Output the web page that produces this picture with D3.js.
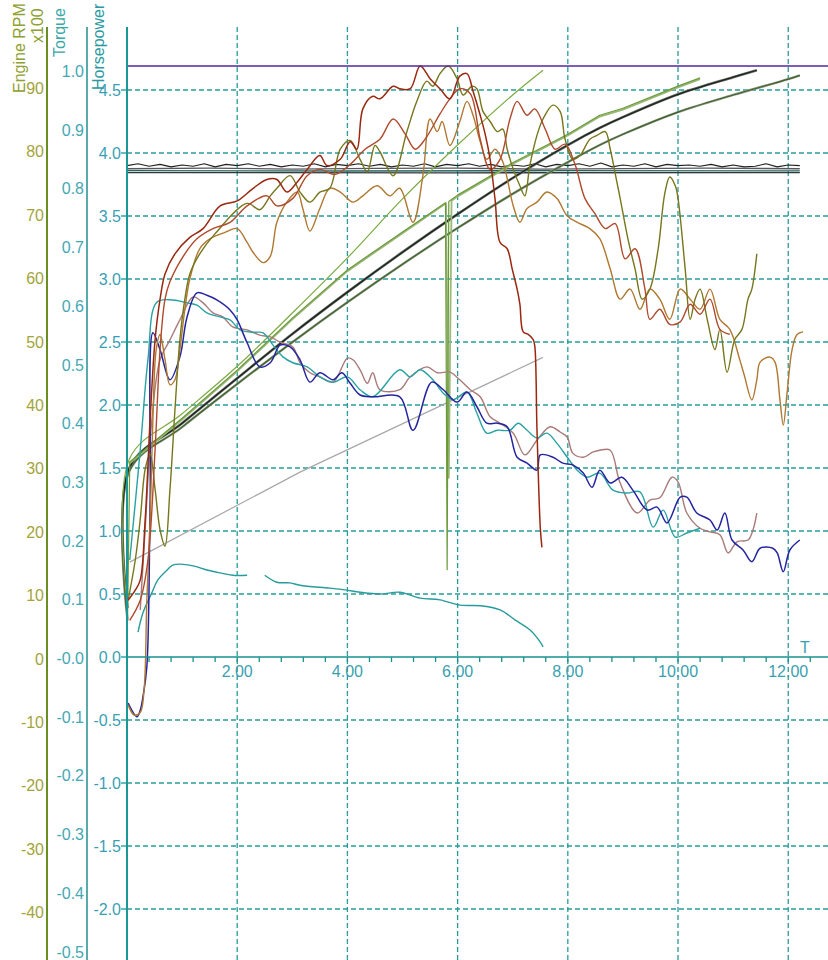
<!DOCTYPE html>
<html>
<head>
<meta charset="utf-8">
<script src="https://d3js.org/d3.v7.min.js"></script>
<style>
  body { margin: 0; background: #fff; }
  svg { display: block; font-family: Arial, "Liberation Sans", sans-serif; }
</style>
</head>
<body>
<div id="chart"></div>
<script>
// tick values / labels
const T_TICKS = [2, 4, 6, 8, 10, 12];
const T_MINOR = d3.range(0.4, 12.8, 0.4);
const HP_TICKS = [4.5, 4.0, 3.5, 3.0, 2.5, 2.0, 1.5, 1.0, 0.5, 0.0, -0.5, -1.0, -1.5, -2.0];
const TQ_TICKS = [1.0, 0.9, 0.8, 0.7, 0.6, 0.5, 0.4, 0.3, 0.2, 0.1, 0.0, -0.1, -0.2, -0.3, -0.4, -0.5];
const TQ_LABELS = ["1.0", "0.9", "0.8", "0.7", "0.6", "0.5", "0.4", "0.3", "0.2", "0.1", "-0.0", "-0.1", "-0.2", "-0.3", "-0.4", "-0.5"];
const RPM_TICKS = [90, 80, 70, 60, 50, 40, 30, 20, 10, 0, -10, -20, -30, -40];

// horsepower runs [time, hp]
const hpLimit = [[0, 4.69], [12.74, 4.69]];
const hpRun1 = [[0.02,0.45],[0.15,0.53],[0.24,0.61],[0.33,1.09],[0.42,1.89],[0.51,2.52],[0.60,2.84],[0.69,3.04],[0.87,3.20],[1.14,3.33],[1.38,3.40],[1.69,3.58],[2.0,3.62],[2.29,3.72],[2.54,3.79],[2.72,3.79],[2.90,3.69],[3.09,3.77],[3.27,3.87],[3.50,3.98],[3.63,3.90],[3.87,3.95],[4.05,4.09],[4.17,4.03],[4.28,4.35],[4.46,4.45],[4.59,4.43],[4.83,4.53],[4.95,4.51],[5.14,4.51],[5.32,4.69],[5.50,4.59],[5.68,4.51],[5.86,4.43],[6.04,4.61],[6.17,4.63],[6.28,4.49],[6.41,4.30],[6.50,4.15],[6.59,3.95],[6.68,3.63],[6.77,3.29],[6.90,3.24],[6.99,3.08],[7.08,2.92],[7.13,2.80],[7.19,2.58],[7.28,2.56],[7.37,2.52],[7.40,2.47],[7.44,1.81],[7.50,1.03],[7.53,0.87]];
const hpRun2 = [[0.05,0.29],[0.24,0.45],[0.38,0.77],[0.51,1.65],[0.60,2.44],[0.69,2.84],[0.78,2.98],[1.05,3.20],[1.27,3.32],[1.56,3.40],[1.87,3.45],[2.18,3.58],[2.54,3.66],[2.72,3.58],[3.01,3.64],[3.27,3.82],[3.50,3.87],[3.77,3.83],[4.05,3.91],[4.32,4.03],[4.59,4.11],[4.83,4.27],[5.05,4.15],[5.23,4.03],[5.41,4.11],[5.68,4.31],[5.86,4.43],[6.04,4.51],[6.23,4.47],[6.41,4.11],[6.59,3.87],[6.77,3.95],[6.95,4.27],[7.08,4.41],[7.26,4.30],[7.40,4.35],[7.59,4.19],[7.77,4.03],[7.95,4.07],[8.13,3.91],[8.31,3.64],[8.49,3.52],[8.68,3.40],[8.86,3.44],[9.04,3.16],[9.22,3.24],[9.40,2.92],[9.49,2.68],[9.67,2.76],[9.85,2.64],[10.04,2.66],[10.22,2.80],[10.40,2.72],[10.58,2.84],[10.76,2.60],[10.94,2.56]];
const hpRun3 = [[0.02,0.45],[0.15,0.77],[0.24,1.09],[0.33,1.49],[0.42,1.61],[0.51,1.33],[0.60,1.01],[0.69,0.88],[0.78,1.33],[0.87,1.96],[0.96,2.52],[1.05,2.84],[1.14,3.04],[1.32,3.20],[1.60,3.36],[2.18,3.60],[2.41,3.55],[2.60,3.66],[2.72,3.72],[2.96,3.82],[3.14,3.69],[3.32,3.61],[3.50,3.69],[3.68,3.72],[3.87,4.03],[4.05,4.10],[4.23,3.95],[4.36,3.85],[4.50,4.06],[4.59,4.01],[4.83,3.82],[5.08,4.17],[5.26,4.41],[5.44,4.57],[5.55,4.53],[5.68,4.63],[5.83,4.69],[5.99,4.59],[6.10,4.46],[6.26,4.53],[6.35,4.51],[6.46,4.33],[6.59,4.25],[6.72,4.17],[6.82,4.19],[6.90,4.03],[7.01,3.87],[7.13,3.74],[7.22,3.66],[7.31,3.90],[7.44,4.14],[7.55,4.27],[7.73,4.38],[7.86,4.33],[7.95,4.11],[8.09,3.95],[8.22,3.98],[8.40,4.11],[8.53,4.14],[8.68,4.17],[8.77,4.03],[8.89,3.77],[8.95,3.64],[9.09,3.32],[9.22,3.08],[9.35,2.84],[9.49,2.92],[9.64,3.24],[9.76,3.68],[9.85,3.81],[9.95,3.74],[10.00,3.64],[10.13,3.08],[10.22,2.68],[10.31,2.84],[10.40,2.92],[10.53,2.68],[10.67,2.44],[10.76,2.60],[10.89,2.26],[11.03,2.52],[11.16,2.60],[11.27,2.84],[11.34,2.92],[11.43,3.20]];
const hpRun4 = [[0.02,-0.38],[0.13,-0.46],[0.24,-0.44],[0.31,-0.26],[0.36,0.45],[0.42,1.09],[0.47,1.89],[0.53,2.44],[0.60,2.56],[0.69,2.36],[0.78,2.16],[0.87,2.20],[0.96,2.44],[1.05,2.76],[1.14,3.00],[1.32,3.24],[1.51,3.32],[1.78,3.37],[2.00,3.40],[2.18,3.29],[2.29,3.21],[2.47,3.13],[2.60,3.18],[2.72,3.45],[2.90,3.61],[3.09,3.69],[3.19,3.56],[3.32,3.38],[3.50,3.56],[3.68,3.72],[3.87,3.69],[4.10,3.61],[4.28,3.66],[4.54,3.74],[4.77,3.66],[4.95,3.72],[5.19,3.45],[5.37,3.82],[5.50,4.27],[5.63,4.17],[5.72,4.25],[5.86,4.06],[6.04,4.25],[6.17,4.41],[6.28,4.30],[6.41,4.09],[6.53,3.95],[6.68,4.03],[6.82,3.93],[7.01,3.58],[7.13,3.45],[7.26,3.56],[7.44,3.61],[7.62,3.69],[7.80,3.64],[7.99,3.50],[8.17,3.45],[8.40,3.40],[8.58,3.32],[8.77,3.08],[8.95,2.84],[9.13,2.92],[9.31,2.76],[9.49,2.92],[9.67,2.84],[9.85,2.68],[10.04,2.92],[10.22,2.84],[10.40,2.76],[10.58,2.92],[10.76,2.68],[10.94,2.60],[11.12,2.36],[11.20,2.24],[11.34,2.04],[11.43,2.20],[11.49,2.34],[11.67,2.38],[11.76,2.34],[11.85,2.04],[11.91,1.84],[11.98,2.10],[12.07,2.44],[12.16,2.56],[12.27,2.58]];

// near-constant traces on the hp scale
const flatA = [[0,3.90],[0.2,3.915],[0.4,3.895],[0.6,3.91],[0.8,3.89],[1,3.905],[1.2,3.895],[1.4,3.915],[1.6,3.89],[1.8,3.91],[2,3.90],[2.2,3.915],[2.4,3.895],[2.6,3.91],[2.8,3.89],[3,3.905],[3.2,3.895],[3.4,3.915],[3.6,3.89],[3.8,3.91],[4,3.90],[4.2,3.915],[4.4,3.895],[4.6,3.91],[4.8,3.89],[5,3.905],[5.2,3.895],[5.4,3.915],[5.6,3.89],[5.8,3.91],[6,3.90],[6.2,3.915],[6.4,3.895],[6.6,3.91],[6.8,3.89],[7,3.905],[7.2,3.895],[7.4,3.915],[7.6,3.89],[7.8,3.91],[8,3.90],[8.2,3.915],[8.4,3.895],[8.6,3.92],[8.8,3.89],[9,3.905],[9.2,3.895],[9.4,3.915],[9.6,3.89],[9.8,3.91],[10,3.90],[10.2,3.905],[10.4,3.895],[10.6,3.91],[10.8,3.89],[11,3.905],[11.2,3.89],[11.4,3.895],[11.6,3.915],[11.8,3.89],[12,3.905],[12.21,3.90]];
const flatB = [[0,3.875],[1.5,3.88],[3,3.872],[4.5,3.878],[6,3.88],[7.5,3.872],[9,3.876],[10.5,3.88],[12.21,3.875]];
const flatC = [[0,3.86],[4,3.857],[8,3.86],[12.21,3.858]];
const flatD = [[0,3.845],[6,3.843],[12.21,3.845]];

// torque runs [time, torque]
const tqBlue = [[0.02,-0.077],[0.18,-0.100],[0.24,-0.089],[0.29,-0.066],[0.36,-0.015],[0.42,0.27],[0.47,0.554],[0.60,0.525],[0.78,0.474],[0.96,0.513],[1.09,0.581],[1.27,0.622],[1.45,0.618],[1.63,0.610],[1.87,0.593],[2.00,0.576],[2.18,0.537],[2.41,0.496],[2.60,0.503],[2.78,0.533],[2.96,0.530],[3.14,0.508],[3.32,0.470],[3.50,0.486],[3.74,0.474],[3.90,0.486],[4.05,0.468],[4.23,0.448],[4.46,0.445],[4.95,0.445],[5.19,0.388],[5.53,0.470],[5.74,0.457],[5.99,0.436],[6.17,0.453],[6.35,0.428],[6.53,0.400],[6.72,0.400],[6.90,0.394],[7.08,0.342],[7.26,0.332],[7.44,0.320],[7.50,0.346],[7.73,0.342],[7.91,0.332],[8.09,0.329],[8.28,0.315],[8.44,0.291],[8.58,0.320],[8.77,0.298],[8.98,0.308],[9.18,0.286],[9.44,0.252],[9.62,0.257],[9.80,0.230],[10.04,0.274],[10.16,0.274],[10.34,0.247],[10.58,0.235],[10.71,0.218],[10.85,0.247],[10.98,0.201],[11.18,0.184],[11.34,0.164],[11.49,0.187],[11.72,0.187],[11.80,0.179],[11.91,0.147],[12.03,0.184],[12.21,0.201]];
const tqTeal = [[0.05,0.167],[0.24,0.354],[0.38,0.508],[0.54,0.606],[0.83,0.610],[1.09,0.605],[1.27,0.601],[1.45,0.588],[1.69,0.581],[1.87,0.576],[2.05,0.559],[2.29,0.555],[2.47,0.554],[2.65,0.533],[2.83,0.513],[3.01,0.503],[3.27,0.496],[3.50,0.479],[3.74,0.470],[4.00,0.479],[4.23,0.457],[4.46,0.445],[4.95,0.491],[5.14,0.479],[5.32,0.491],[5.55,0.474],[5.74,0.451],[5.92,0.440],[6.17,0.453],[6.35,0.417],[6.53,0.383],[6.72,0.388],[6.95,0.388],[7.10,0.400],[7.26,0.388],[7.44,0.375],[7.62,0.383],[7.80,0.366],[7.99,0.342],[8.17,0.320],[8.35,0.308],[8.58,0.315],[8.82,0.286],[9.07,0.281],[9.31,0.283],[9.55,0.223],[9.73,0.252],[9.95,0.206],[10.16,0.213],[10.40,0.221]];
const tqMauve = [[0.24,0.082],[0.34,0.235],[0.45,0.405],[0.60,0.508],[0.78,0.542],[0.96,0.576],[1.20,0.615],[1.38,0.605],[1.56,0.588],[1.74,0.581],[1.92,0.564],[2.18,0.559],[2.41,0.550],[2.60,0.547],[2.78,0.538],[3.01,0.530],[3.14,0.503],[3.32,0.486],[3.50,0.479],[3.74,0.470],[4.00,0.511],[4.10,0.508],[4.23,0.491],[4.36,0.468],[4.46,0.486],[4.59,0.457],[4.95,0.457],[5.14,0.479],[5.44,0.496],[5.63,0.486],[5.86,0.487],[6.04,0.474],[6.23,0.457],[6.41,0.445],[6.59,0.411],[6.77,0.400],[7.01,0.383],[7.22,0.346],[7.44,0.371],[7.68,0.394],[7.86,0.385],[7.99,0.376],[8.09,0.349],[8.28,0.342],[8.46,0.351],[8.58,0.354],[8.77,0.354],[8.95,0.298],[9.26,0.247],[9.49,0.269],[9.67,0.273],[9.89,0.308],[10.00,0.300],[10.16,0.247],[10.40,0.221],[10.58,0.215],[10.76,0.210],[10.91,0.179],[11.07,0.198],[11.27,0.201],[11.36,0.218],[11.43,0.247]];
const tqLow = [[0.20,0.044],[0.29,0.077],[0.45,0.111],[0.56,0.133],[0.73,0.150],[0.82,0.158],[0.96,0.160],[1.20,0.157],[1.45,0.150],[1.69,0.145],[1.92,0.141],[2.18,0.141],[2.30,null],[2.50,0.141],[2.72,0.129],[2.96,0.128],[3.14,0.124],[3.68,0.119],[3.96,0.116],[4.23,0.112],[4.59,0.109],[4.95,0.112],[5.32,0.102],[5.68,0.099],[6.04,0.090],[6.41,0.089],[6.77,0.082],[7.04,0.065],[7.31,0.048],[7.50,0.027],[7.55,0.019]];

// engine rpm runs [time, rpm x100]
const rpmRun1 = [[0.01,8],[0.05,31.6],[1,38.6],[2,46.1],[3,54.5],[4,63.2],[5,72.5],[6,81.0],[7,88.9],[7.55,92.8]];
const rpmRun2 = [[0.01,6],[0.05,31.0],[1,37.9],[2,45.5],[3,53.7],[4,61.3],[5,67.3],[5.78,71.9],[5.81,14.0],[5.84,72.1],[6,73.1],[7,78.2],[8,82.7],[8.58,85.7],[9,86.8],[10,90.3],[10.4,91.6]];
const rpmRun2b = [[0.05,30.8],[1,37.7],[2,45.3],[3,53.5],[4,61.1],[5,67.1],[5.79,71.8],[5.84,28.5],[5.89,72.2],[6,72.9],[7,78.0],[8,82.5],[8.58,85.5],[9,86.6],[10,90.1],[10.4,91.4]];
const rpmRun3 = [[0.01,8],[0.05,30.2],[1,37.1],[2,44.2],[3,51.2],[4,57.8],[5,64.1],[6,70.1],[7,75.8],[8,81.0],[8.58,83.7],[9,85.4],[10,89.0],[11,91.7],[11.43,92.8]];
const rpmRun4 = [[0.01,6],[0.05,29.7],[1,36.5],[2,43.3],[3,49.9],[4,56.2],[5,62.2],[6,67.9],[7,73.3],[8,78.3],[8.58,81.0],[9,82.7],[10,86.2],[11,88.9],[12,91.4],[12.21,92.0]];
const rpmRamp = [[0.05,15.2],[3.14,29.4],[7.55,47.5]];

const W = 828, H = 960;
const svg = d3.select("#chart").append("svg").attr("width", W).attr("height", H);

const x = d3.scaleLinear().domain([0, 12.74]).range([127, 829]);
const yHp = d3.scaleLinear().domain([0, 4.5]).range([657, 90]);
const yTq = d3.scaleLinear().domain([0, 1]).range([658, 71]);
const yRpm = d3.scaleLinear().domain([0, 90]).range([658.5, 88]);
const axisTop = 27;

const gridColor = "#2a9a9a";
// grid
svg.append("g").selectAll("line").data(T_TICKS).join("line")
    .attr("x1", d => x(d)).attr("x2", d => x(d))
    .attr("y1", axisTop).attr("y2", H)
    .attr("stroke", gridColor).attr("stroke-width", 1.3).attr("stroke-dasharray", "5,3");
svg.append("g").selectAll("line").data(HP_TICKS.filter(d => d !== 0)).join("line")
    .attr("x1", x(0)).attr("x2", W)
    .attr("y1", d => yHp(d)).attr("y2", d => yHp(d))
    .attr("stroke", gridColor).attr("stroke-width", 1.3).attr("stroke-dasharray", "5,3");

function draw(data, yScale, color, width, curve) {
    const line = d3.line()
        .defined(d => d[1] != null)
        .x(d => x(d[0])).y(d => yScale(d[1]))
        .curve(curve || d3.curveLinear);
    svg.append("path").datum(data)
        .attr("d", line).attr("fill", "none")
        .attr("stroke", color).attr("stroke-width", width)
        .attr("stroke-linejoin", "round");
}
const smooth = d3.curveCatmullRom.alpha(0.5);

// curves
draw(flatD, yHp, "#303838", 1.3);
draw(flatC, yHp, "#2a6262", 1.3);
draw(flatB, yHp, "#585858", 1.3);
draw(flatA, yHp, "#202020", 1.1);
draw(rpmRamp, yRpm, "#a8a8a8", 1.2);
draw(rpmRun4, yRpm, "#8e9a88", 2.4, smooth);
draw(rpmRun4, yRpm, "#41622a", 1.2, smooth);
draw(rpmRun3, yRpm, "#6a706a", 2.6, smooth);
draw(rpmRun3, yRpm, "#1c241c", 1.3, smooth);
draw(rpmRun2b, yRpm, "#9ab878", 1.8);
draw(rpmRun2, yRpm, "#6a9a38", 1.2);
draw(rpmRun1, yRpm, "#7aaa40", 1.2, smooth);
draw(tqLow, yTq, "#289c9c", 1.4, smooth);
draw(tqMauve, yTq, "#a87a78", 1.4, smooth);
draw(tqTeal, yTq, "#28a2a2", 1.4, smooth);
draw(tqBlue, yTq, "#2424a0", 1.5, smooth);
draw(hpRun4, yHp, "#b07830", 1.4, smooth);
draw(hpRun3, yHp, "#76761c", 1.4, smooth);
draw(hpRun2, yHp, "#b04a2c", 1.4, smooth);
draw(hpRun1, yHp, "#9a2810", 1.5, smooth);
draw(hpLimit, yHp, "#5028a0", 1.5);

// x axis
svg.append("line").attr("x1", x(0)).attr("x2", W).attr("y1", yHp(0)).attr("y2", yHp(0))
    .attr("stroke", "#1a9090").attr("stroke-width", 1.5);
svg.append("g").selectAll("line").data(T_MINOR).join("line")
    .attr("x1", d => x(d)).attr("x2", d => x(d))
    .attr("y1", yHp(0)).attr("y2", yHp(0) + 5)
    .attr("stroke", "#1a9090").attr("stroke-width", 1.3);
svg.append("g").selectAll("text").data(T_TICKS).join("text")
    .attr("x", d => x(d)).attr("y", 677)
    .attr("text-anchor", "middle").attr("font-size", 16).attr("fill", "#3a9fb0")
    .text(d => d.toFixed(2));
svg.append("text").attr("x", 805).attr("y", 653).attr("text-anchor", "middle")
    .attr("font-size", 16).attr("fill", "#3a9fb0").text("T");

// vertical axes
const axes = [
    { xPos: 47, color: "#6b8e23" },
    { xPos: 87, color: "#5aaaaa" },
    { xPos: 127, color: "#1a9898" }
];
svg.append("g").selectAll("line").data(axes).join("line")
    .attr("x1", d => d.xPos).attr("x2", d => d.xPos)
    .attr("y1", axisTop).attr("y2", H)
    .attr("stroke", d => d.color).attr("stroke-width", 2);

// hp ticks
svg.append("g").selectAll("text").data(HP_TICKS).join("text")
    .attr("x", 121).attr("y", d => yHp(d) + 6)
    .attr("text-anchor", "end").attr("font-size", 16).attr("fill", "#3a9fb5")
    .text(d => d.toFixed(1));
svg.append("g").selectAll("line").data(HP_TICKS).join("line")
    .attr("x1", 121).attr("x2", 127)
    .attr("y1", d => yHp(d)).attr("y2", d => yHp(d))
    .attr("stroke", "#1a9898").attr("stroke-width", 1.3);
// torque ticks
svg.append("g").selectAll("text").data(TQ_TICKS).join("text")
    .attr("x", 84).attr("y", d => yTq(d) + 6)
    .attr("text-anchor", "end").attr("font-size", 16).attr("fill", "#44a8b4")
    .text((d, i) => TQ_LABELS[i]);
// rpm ticks
svg.append("g").selectAll("text").data(RPM_TICKS).join("text")
    .attr("x", 44).attr("y", d => yRpm(d) + 6)
    .attr("text-anchor", "end").attr("font-size", 16).attr("fill", "#a4a43a")
    .text(d => d);

// axis titles
const titles = [
    { text: "Engine RPM", tx: 25, ty: 93, color: "#8ea030" },
    { text: "x100", tx: 43, ty: 43, color: "#8ea030" },
    { text: "Torque", tx: 65, ty: 57, color: "#3aa8a8" },
    { text: "Horsepower", tx: 104, ty: 90, color: "#2a9aa0" }
];
svg.append("g").selectAll("text").data(titles).join("text")
    .attr("transform", d => `translate(${d.tx},${d.ty}) rotate(-90)`)
    .attr("font-size", 16).attr("fill", d => d.color)
    .text(d => d.text);
</script>
</body>
</html>
